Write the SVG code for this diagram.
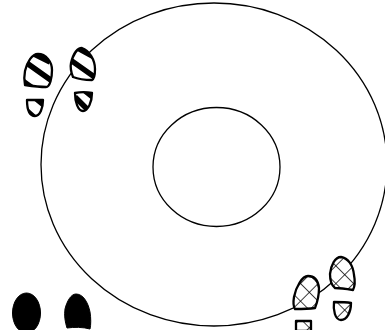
<svg xmlns="http://www.w3.org/2000/svg" width="385" height="330" viewBox="0 0 385 330">
<style>
.l{fill:none;stroke:#000;stroke-width:1.3}
.s{stroke:#000;stroke-width:2.3;fill:none;stroke-linejoin:round}
.w{fill:#fff}
.ch{fill:url(#hatch)}
.b{fill:#000;stroke:#000;stroke-width:1}
.k{stroke:#000;stroke-width:5.5;fill:none}
</style>
<defs>
<pattern id="hatch" patternUnits="userSpaceOnUse" width="12.500" height="12.500" patternTransform="rotate(45 0 0)">
<rect width="12.500" height="12.500" fill="#fff"/>
<path d="M0 0H12.500M0 0V12.500" stroke="#000" stroke-width="1.500" fill="none"/>
</pattern>
<path id="soleA" d="M38 54C46 54 52 62 52 70C52 78 50 87 46 87C40 87 32 86 25 85C24 80 24 76 25 71C27 62 32 54 38 54Z"/>
<path id="heelA" d="M27 100H43C43 108 40 116 35 116C29 116 27 108 27 100Z"/>
<path id="soleB" d="M82 48C89 50 95 60 95 69C95 74 94 79 92 80C86 80 78 79 73 77C71 72 70 68 71 63C73 55 77 48 82 48Z"/>
<path id="heelB" d="M75 93C80 92 87 92 92 93C92 102 88 111 83 111C78 111 75 102 75 93Z"/>
<clipPath id="cSoleA"><use href="#soleA"/></clipPath>
<clipPath id="cHeelA"><use href="#heelA"/></clipPath>
<clipPath id="cSoleB"><use href="#soleB"/></clipPath>
<clipPath id="cHeelB"><use href="#heelB"/></clipPath>
</defs>
<g id="connectors">
<ellipse class="l" cx="214" cy="164.500" rx="173" ry="161.500"/>
<ellipse class="l" cx="216.500" cy="167" rx="63.500" ry="59.500"/>
</g>
<g id="print-stripes-left">
<use href="#soleA" class="w"/>
<g clip-path="url(#cSoleA)"><path class="k" d="M24 61L52 81M30 52L50 62M20 79L34 89"/></g>
<use href="#soleA" class="s"/>
<use href="#heelA" class="w"/>
<g clip-path="url(#cHeelA)"><path class="k" d="M34 97L46 107M26 110L36 119"/></g>
<use href="#heelA" class="s"/>
</g>
<g id="print-stripes-right">
<use href="#soleB" class="w"/>
<g clip-path="url(#cSoleB)"><path class="k" d="M69 59L96 78M74 46L96 58"/></g>
<use href="#soleB" class="s"/>
<use href="#heelB" class="w"/>
<g clip-path="url(#cHeelB)"><path class="k" d="M75 97L87 109M84 90L94 98"/></g>
<use href="#heelB" class="s"/>
</g>
<g id="print-hatch-left">
<path class="s ch" d="M308 276C314 276 318 280 319 288C319 295 317 303 315 308C308 309 301 309 295 309C293 306 293 303 294 297C296 287 302 276 308 276Z"/>
<path class="s ch" d="M296 321H311V331H296Z"/>
</g>
<g id="print-hatch-right">
<path class="s ch" d="M341 257C348 258 353 265 354 275C355 280 355 286 353 290C347 289 341 288 335 288C331 285 330 280 330 274C331 265 335 257 341 257Z"/>
<path class="s ch" d="M334 302C340 302 346 302 351 303C351 312 347 320 341 320C335 320 333 310 334 302Z"/>
</g>
<g id="print-black-left">
<ellipse class="b" cx="26.500" cy="313" rx="14" ry="20"/>
</g>
<g id="print-black-right">
<path class="b" d="M76 294C83 294 88 302 90 312C91 318 91 325 90 329C83 327 74 327 67 328C65 322 64 315 65 309C67 301 71 294 76 294Z"/>
</g>
</svg>
